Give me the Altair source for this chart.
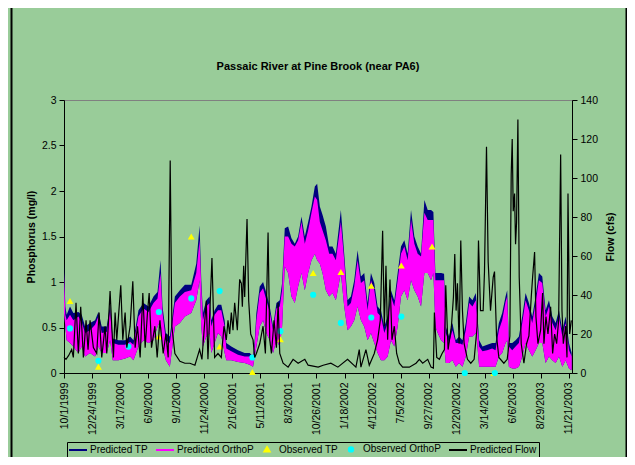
import datetime as dt
import pandas as pd
import altair as alt

BASE = dt.date(1999, 10, 1)

# ---- Predicted phosphorus (day offset from 10/1/1999) ----
p_day = [0, 4, 8, 18, 28, 43, 53, 63, 78, 93, 103, 113, 128, 138, 146, 163, 183, 198, 208, 223,
         238, 253, 268, 280, 289, 295, 305, 317, 332, 347, 362,
         381, 396, 406, 411, 416, 426, 436, 441, 451, 461, 471, 481, 486, 501, 521, 541, 556, 566,
         571, 576, 586, 596, 606, 616, 626, 636, 646, 653, 661, 671, 681, 691, 701, 711, 721, 731,
         741, 751, 758, 766, 774, 784, 794, 804, 814, 829, 839, 849, 859, 869, 879, 889, 899, 909,
         919, 929, 939, 949, 959, 969, 979, 989, 999, 1009, 1019, 1029, 1039, 1049, 1059, 1069,
         1079, 1089, 1099, 1106, 1112, 1119, 1129, 1138,
         1143, 1153, 1163, 1173, 1183, 1193, 1203, 1213, 1223, 1233, 1237, 1243, 1253, 1267, 1282,
         1292, 1302, 1312, 1322, 1327, 1332, 1342, 1352, 1362, 1372, 1382, 1392, 1402, 1412, 1422,
         1432, 1442, 1452, 1462, 1472, 1482, 1492, 1502, 1512, 1520]
tp_hi = [1.21, 0.73, 0.64, 0.73, 0.66, 0.67, 0.64, 0.51, 0.55, 0.58, 0.67, 0.51, 0.51, 0.75, 0.38,
         0.36, 0.36, 0.40, 0.36, 0.69, 0.77, 0.73, 0.84, 0.89, 1.24, 0.73, 0.44, 0.40, 0.84, 0.91,
         0.97,
         0.97, 1.20, 1.62, 1.02, 0.66, 0.80, 0.84, 0.58, 0.69, 0.75, 0.75, 0.58, 0.33, 0.29, 0.25,
         0.22, 0.22, 0.18, 0.36, 0.66, 0.95, 1.00, 0.88, 0.73, 0.51, 0.77, 0.80, 0.99, 1.59, 1.61,
         1.48, 1.42, 1.50, 1.72, 1.50, 1.66, 1.83, 2.05, 2.08, 1.83, 1.74, 1.61, 1.39, 1.39, 1.31,
         1.79, 1.31, 0.80, 0.84, 1.02, 1.35, 1.06, 1.10, 0.77, 1.10, 0.99, 0.73, 0.69, 0.51, 0.62,
         0.91, 0.80, 1.10, 1.39, 1.46, 1.31, 1.79, 1.50, 1.39, 1.31, 1.90, 1.79, 1.79, 1.77, 1.10,
         1.10, 1.10, 1.09,
         0.51, 0.40, 0.55, 0.36, 0.40, 0.36, 0.55, 0.84, 0.80, 0.88, 0.69, 0.36, 0.29, 0.31, 0.33,
         0.33, 0.55, 0.66, 0.84, 0.91, 0.33, 0.33, 0.36, 0.40, 0.62, 0.88, 0.77, 0.62, 0.84, 1.10,
         1.06, 0.69, 0.80, 0.62, 0.55, 0.69, 0.47, 0.62, 0.33, 0.22]
op_hi = [1.10, 0.64, 0.58, 0.64, 0.58, 0.62, 0.56, 0.44, 0.47, 0.53, 0.62, 0.44, 0.45, 0.69, 0.33,
         0.31, 0.31, 0.34, 0.31, 0.62, 0.71, 0.67, 0.77, 0.82, 1.10, 0.66, 0.36, 0.33, 0.77, 0.84,
         0.89,
         0.91, 1.10, 1.46, 0.95, 0.58, 0.73, 0.77, 0.51, 0.64, 0.69, 0.69, 0.51, 0.27, 0.24, 0.20,
         0.18, 0.18, 0.14, 0.31, 0.58, 0.88, 0.93, 0.80, 0.67, 0.47, 0.71, 0.73, 0.91, 1.50, 1.50,
         1.42, 1.39, 1.46, 1.66, 1.42, 1.57, 1.76, 1.94, 1.90, 1.66, 1.57, 1.46, 1.31, 1.31, 1.24,
         1.66, 1.24, 0.73, 0.77, 0.95, 1.24, 0.99, 1.02, 0.69, 1.02, 0.91, 0.66, 0.62, 0.44, 0.55,
         0.84, 0.73, 1.02, 1.31, 1.39, 1.24, 1.68, 1.42, 1.31, 1.28, 1.76, 1.68, 1.68, 1.68, 1.02,
         1.02, 1.02, 1.02,
         0.44, 0.33, 0.47, 0.33, 0.33, 0.31, 0.47, 0.77, 0.73, 0.80, 0.62, 0.29, 0.24, 0.25, 0.27,
         0.25, 0.47, 0.58, 0.78, 0.84, 0.29, 0.25, 0.29, 0.33, 0.55, 0.80, 0.69, 0.55, 0.77, 1.02,
         0.99, 0.62, 0.73, 0.55, 0.47, 0.62, 0.40, 0.55, 0.25, 0.18]
op_lo = [0.66, 0.51, 0.36, 0.33, 0.29, 0.22, 0.29, 0.18, 0.22, 0.18, 0.29, 0.22, 0.22, 0.36, 0.14,
         0.14, 0.16, 0.18, 0.14, 0.29, 0.36, 0.33, 0.36, 0.51, 0.58, 0.29, 0.14, 0.07, 0.51, 0.55,
         0.62,
         0.66, 0.80, 1.02, 0.51, 0.29, 0.40, 0.44, 0.22, 0.33, 0.44, 0.40, 0.22, 0.14, 0.14, 0.12,
         0.11, 0.09, 0.07, 0.18, 0.29, 0.51, 0.58, 0.44, 0.36, 0.22, 0.36, 0.29, 0.51, 1.17, 1.10,
         0.84, 0.77, 0.95, 1.10, 0.91, 1.10, 1.24, 1.31, 1.24, 1.20, 1.10, 0.91, 0.84, 0.88, 0.80,
         1.10, 0.73, 0.47, 0.51, 0.58, 0.73, 0.58, 0.51, 0.36, 0.44, 0.33, 0.22, 0.14, 0.14, 0.18,
         0.36, 0.29, 0.51, 0.84, 0.91, 0.80, 1.02, 0.91, 0.84, 0.73, 1.10, 1.10, 1.02, 1.10, 0.51,
         0.44, 0.36, 0.33,
         0.11, 0.11, 0.14, 0.07, 0.11, 0.07, 0.18, 0.40, 0.40, 0.44, 0.33, 0.07, 0.07, 0.07, 0.07,
         0.07, 0.18, 0.22, 0.33, 0.36, 0.07, 0.05, 0.05, 0.07, 0.18, 0.33, 0.25, 0.18, 0.25, 0.33,
         0.33, 0.11, 0.18, 0.14, 0.11, 0.18, 0.07, 0.14, 0.05, 0.03]

# ---- Predicted flow (cfs) ----
flow_day = [0, 6, 14, 23, 28, 36, 43, 50, 58, 66, 72, 78, 88, 98, 105, 113, 123, 128, 138, 143,
            148, 153, 158, 170, 176, 183, 188, 198, 206, 213, 220, 228, 236, 243, 250, 255, 262,
            272, 279, 287, 297, 305, 312, 318, 323, 332, 347, 362, 377,
            392, 406, 413, 426, 431, 443, 451, 461, 471, 479, 486, 491, 496, 501, 506, 511, 519,
            526, 531, 534, 538, 541, 548, 553, 559, 566, 571, 576, 586, 596, 603, 611, 616, 621,
            629, 636, 641, 646, 656, 671, 686, 701, 721, 731, 761,
            776, 799, 820, 849, 874, 884, 889, 904, 914, 929, 939, 947, 954, 959, 964, 969, 976,
            982, 989, 996, 1004, 1014, 1034, 1054, 1064, 1074, 1089, 1099, 1106, 1109, 1116, 1124,
            1132, 1139,
            1143, 1150, 1160, 1166, 1170, 1174, 1178, 1183, 1188, 1193, 1198, 1208, 1218, 1228,
            1237, 1241, 1247, 1255, 1259, 1265, 1270, 1277, 1285, 1289, 1295, 1302, 1317, 1327,
            1335, 1339, 1342, 1345, 1349, 1352, 1355, 1359, 1363, 1369, 1377, 1385, 1392, 1399,
            1403, 1409, 1413, 1419, 1427, 1433, 1437, 1443, 1449, 1457, 1463, 1469, 1475, 1481,
            1487, 1491, 1495, 1502, 1506, 1509, 1514, 1519]
flow_cfs = [8, 7, 9, 12, 8, 36, 10, 34, 8, 27, 12, 27, 13, 10, 31, 8, 24, 10, 42, 24,
            8, 31, 17, 45, 17, 31, 13, 24, 47, 13, 24, 8, 41, 13, 31, 41, 13,
            24, 8, 27, 10, 20, 8, 109, 24, 10, 6, 5, 5,
            4, 12, 7, 37, 7, 59, 8, 10, 8, 24, 17, 27, 20, 31, 22, 36, 22,
            48, 46, 34, 55, 39, 79, 37, 20, 17, 8, 10, 15, 24, 10, 72, 17, 10,
            27, 13, 36, 10, 5, 3, 7, 5, 7, 4, 3,
            4, 5, 3, 7, 3, 12, 3, 12, 4, 10, 17, 27, 73, 24, 55, 17, 48,
            17, 24, 10, 5, 3, 3, 5, 7, 5, 7, 3, 2.5, 31, 8, 7,
            10, 12,
            45, 12, 24, 39, 61, 32, 46, 15, 68, 32, 15, 7, 5, 7,
            24, 68, 32, 32, 52, 116, 57, 32, 49, 52, 19, 8, 5, 7,
            19, 102, 120, 83, 92, 66, 77, 130, 49, 15, 5, 15, 19, 39,
            49, 62, 29, 15, 22, 41, 15, 29, 20, 34, 10, 20, 15, 27,
            112, 32, 15, 24, 8, 92, 20, 27]

# ---- Observations ----
obs_tp_day = [18, 103, 284, 381, 466, 564, 648, 746, 829, 920, 1010, 1102, 1287]
obs_tp = [0.79, 0.07, 0.40, 1.50, 0.29, 0.01, 0.37, 1.10, 1.11, 0.96, 1.18, 1.39, 0.0]
obs_op_day = [18, 103, 193, 284, 381, 466, 564, 648, 746, 829, 920, 1010, 1200, 1290]
obs_op = [0.49, 0.135, 0.29, 0.67, 0.82, 0.90, 0.17, 0.46, 0.86, 0.55, 0.61, 0.62, 0.0, 0.0]

series_names = ["Predicted TP", "Predicted OrthoP", "Observed TP", "Observed OrthoP", "Predicted Flow"]
series_colors = ["#000080", "#FF00FF", "#FFFF00", "#00FFFF", "#000000"]
# legend glyphs (unit square scaled by the legend symbol size)
LINE = "M-1.25,0H3.25"
TRI = "M1,-0.6L1.65,0.5H0.35Z"
CIRC = "M0.45,0A0.55,0.55 0 1,0 1.55,0A0.55,0.55 0 1,0 0.45,0Z"
series_shapes = [LINE, LINE, TRI, CIRC, LINE]

tick_days = [84 * i for i in range(19)]
y_left_ticks = [0, 0.5, 1, 1.5, 2, 2.5, 3]
y_right_ticks = [0, 20, 40, 60, 80, 100, 120, 140]

FONT = "Liberation Sans"


def to_date(d):
    return (BASE + dt.timedelta(days=d)).isoformat() + "T00:00:00"


def to_dt(d):
    x = BASE + dt.timedelta(days=d)
    return alt.DateTime(year=x.year, month=x.month, date=x.day)


phos_df = pd.DataFrame({"date": [to_date(d) for d in p_day],
                        "tp": tp_hi, "op": op_hi, "lo": op_lo})
flow_df = pd.DataFrame({"date": [to_date(d) for d in flow_day], "flow": flow_cfs})
otp_df = pd.DataFrame({"date": [to_date(d) for d in obs_tp_day], "value": obs_tp})
oop_df = pd.DataFrame({"date": [to_date(d) for d in obs_op_day], "value": obs_op})
legend_df = pd.DataFrame({"series": series_names})

x_enc = alt.X(
    "date:T",
    scale=alt.Scale(domain=[to_dt(0), to_dt(1521)]),
    axis=alt.Axis(values=[to_dt(d) for d in tick_days], format="%-m/%-d/%Y",
                  labelAngle=270, labelFontSize=10.5, labelFont=FONT, labelColor="black",
                  tickColor="black", domainColor="black", tickSize=5, labelPadding=4,
                  grid=False, title=None, labelOverlap=False, labelFlush=False),
)

y_scale = alt.Scale(domain=[0, 3], nice=False, zero=True)
y_axis = alt.Axis(values=y_left_ticks, format="~g", title="Phosphorus (mg/l)",
                  titleFont=FONT, titleFontSize=10.5, titleFontWeight="bold", titleColor="black",
                  titlePadding=5, labelFont=FONT, labelFontSize=10.5, labelColor="black",
                  tickColor="black", domainColor="black", tickSize=5, labelPadding=3, grid=False)

tp_band = alt.Chart(phos_df).mark_area(color="#000080", opacity=1).encode(
    x=x_enc,
    y=alt.Y("lo:Q", scale=y_scale, axis=y_axis),
    y2="tp:Q",
)
op_band = alt.Chart(phos_df).mark_area(color="#FF00FF", opacity=1).encode(
    x=x_enc,
    y=alt.Y("lo:Q", scale=y_scale, axis=y_axis),
    y2="op:Q",
)
tri_pts = alt.Chart(otp_df).mark_point(shape="triangle-up", filled=True, size=48, opacity=1,
                                       color="#FFFF00").encode(
    x=x_enc, y=alt.Y("value:Q", scale=y_scale, axis=y_axis))
circ_pts = alt.Chart(oop_df).mark_point(shape="circle", filled=True, size=38, opacity=1,
                                        color="#00FFFF").encode(
    x=x_enc, y=alt.Y("value:Q", scale=y_scale, axis=y_axis))

phos = alt.layer(tp_band, op_band, tri_pts, circ_pts)

flow = alt.Chart(flow_df).mark_line(color="black", strokeWidth=1.2).encode(
    x=x_enc,
    y=alt.Y("flow:Q", scale=alt.Scale(domain=[0, 140], nice=False),
            axis=alt.Axis(orient="right", values=y_right_ticks, title="Flow (cfs)",
                          titleAngle=270, titleFont=FONT, titleFontSize=10.5,
                          titleFontWeight="bold", titleColor="black", titlePadding=18,
                          labelFont=FONT, labelFontSize=10.5, labelColor="black",
                          tickColor="black", domainColor="black", tickSize=5,
                          labelPadding=3, grid=False)),
)

legend = alt.Legend(title=None, orient="none", legendX=3, legendY=342, direction="horizontal",
                    columns=5, symbolSize=64, symbolStrokeWidth=2, labelFont=FONT,
                    labelFontSize=10, labelColor="black", columnPadding=4, labelOffset=11,
                    padding=2, strokeColor="black", fillColor="#99CC99", symbolOpacity=1)
sc = alt.Scale(domain=series_names, range=series_colors)
legend_layer = alt.Chart(legend_df).mark_point(filled=True, opacity=0).encode(
    fill=alt.Fill("series:N", scale=sc, legend=legend),
    stroke=alt.Stroke("series:N", scale=sc, legend=legend),
    shape=alt.Shape("series:N", scale=alt.Scale(domain=series_names, range=series_shapes),
                    legend=legend),
)

frame_df = pd.DataFrame({"k": [0]})
left_border = alt.Chart(frame_df).mark_rule(color="black", strokeWidth=2).encode(
    x=alt.value(-52.5), y=alt.value(-92), y2=alt.value(357))
right_border = alt.Chart(frame_df).mark_rule(color="black", strokeWidth=2).encode(
    x=alt.value(562.5), y=alt.value(-92), y2=alt.value(357))

chart = alt.layer(phos, flow, legend_layer, left_border, right_border).resolve_scale(
    y="independent"
).properties(
    width=508, height=273,
    title=alt.TitleParams("Passaic River at Pine Brook (near PA6)", font=FONT, fontSize=11,
                          fontWeight="bold", color="black", anchor="middle", offset=-65,
                          frame="group"),
    autosize=alt.AutoSizeParams(type="none"),
    padding={"left": 56, "top": 92, "right": 55, "bottom": 84},
).configure(background="#99CC99").configure_view(
    fill="#C0C0C0", stroke="#808080", strokeWidth=1
)

chart.save("out.html", embed_options={"renderer": "svg", "actions": False})
